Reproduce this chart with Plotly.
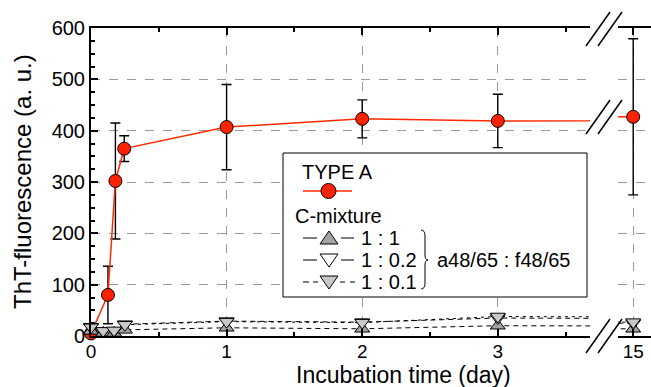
import plotly.graph_objects as go

# ---- data ----
days_a = [0, 0.125, 0.18, 0.245, 1, 2, 3, 15]
type_a = [5, 80, 302, 365, 407, 423, 419, 427]
type_a_err = [4, 56, 113, 25, 83, 37, 52, 152]

days_mix = [0, 0.09, 0.17, 0.25, 1, 2, 3, 15]
mix_1_1 = [10, 6, 6, 12, 16, 14, 20, 14]
mix_1_02 = [18, 10, 10, 23, 29, 27, 35, 25]
mix_1_01 = [17, 10, 11, 22, 28, 26, 38, 27]

mix_names = ["1 : 1", "1 : 0.2", "1 : 0.1"]
x_ticks_left = [0, 1, 2, 3]
x_ticks_right = [15]
y_ticks = [0, 100, 200, 300, 400, 500, 600]

FONT = "Liberation Sans, Arial, Helvetica, sans-serif"
W, H = 651, 387
L, R, T, B = 91, 0, 28, 51
PW, PH = W - L - R, H - T - B

RED = "#ff2200"
GRAY_UP = "#a3a3a3"
GRAY_DN = "#c8c8c8"


def px(x):
    return (x - L) / PW


def py(y):
    return (H - B - y) / PH


fig = go.Figure()

red_line = dict(color="#ff2a00", width=1.5)
red_marker = dict(size=13, color=RED, line=dict(color="black", width=1))
err = dict(type="data", array=type_a_err, visible=True, color="black", thickness=1.4, width=5)

for xa in ("x", "x2"):
    fig.add_trace(go.Scatter(
        x=days_a, y=type_a, xaxis=xa, yaxis="y", mode="lines+markers",
        line=red_line, marker=red_marker, error_y=err, cliponaxis=False,
        name="TYPE A", showlegend=False,
    ))

mix_specs = [
    (mix_names[0], mix_1_1, "triangle-up", GRAY_UP, "5px,4px"),
    (mix_names[1], mix_1_02, "triangle-down", "white", "5px,4px"),
    (mix_names[2], mix_1_01, "triangle-down", GRAY_DN, "3px,4px"),
]
for nm, vals, sym, fill, dash in mix_specs:
    for xa in ("x", "x2"):
        fig.add_trace(go.Scatter(
            x=days_mix, y=vals, xaxis=xa, yaxis="y", mode="lines+markers",
            line=dict(color="black", width=1, dash=dash),
            marker=dict(symbol=sym, size=13, color=fill, line=dict(color="black", width=1)),
            cliponaxis=False, name=nm, showlegend=False,
        ))

axis_common = dict(
    showline=True, linecolor="black", linewidth=2, mirror="ticks",
    ticks="inside", ticklen=7, tickwidth=1.5, tickcolor="black",
    showgrid=True, gridcolor="#9a9a9a", griddash="dash", gridwidth=1,
    zeroline=False, tickfont=dict(size=20, family=FONT, color="black"),
)
x_common = dict(axis_common, tickfont=dict(size=19, family=FONT, color="black"),
                ticklabelstandoff=-3)

fig.update_layout(
    width=W, height=H, margin=dict(l=L, r=R, t=T, b=B, autoexpand=False),
    plot_bgcolor="white", paper_bgcolor="white",
    font=dict(family=FONT, size=20, color="black"),
    showlegend=False,
    xaxis=dict(domain=[0, px(590)], range=[0, 3.68], tickvals=x_ticks_left,
               ticktext=[str(v) for v in x_ticks_left], anchor="y",
               minor=dict(tickvals=[0.5, 1.5, 2.5, 3.5], ticks="inside", ticklen=4,
                          tickcolor="black", showgrid=False),
               **x_common),
    xaxis2=dict(domain=[px(618), 1], range=[14.889, 15.13], tickvals=x_ticks_right,
                ticktext=[str(v) for v in x_ticks_right], anchor="y", **x_common),
    yaxis=dict(range=[0, 600], tickvals=y_ticks, anchor="x",
               minor=dict(dtick=25, ticks="inside", ticklen=4, tickcolor="black", showgrid=False),
               **{k: v for k, v in axis_common.items() if k != "mirror"}),
)

shapes = []
# legend box
shapes.append(dict(type="rect", xref="paper", yref="paper", x0=px(283), x1=px(587),
                   y0=py(297), y1=py(153), fillcolor="white",
                   line=dict(color="black", width=1), layer="above"))


def seg(x0, y0, x1, y1, color="black", width=1.5, dash=None):
    ln = dict(color=color, width=width)
    if dash:
        ln["dash"] = dash
    return dict(type="line", xref="paper", yref="paper", x0=px(x0), y0=py(y0),
                x1=px(x1), y1=py(y1), line=ln)


# legend samples
shapes.append(seg(303, 191, 352, 191, color="#ff2a00", width=1.5))
shapes.append(dict(type="circle", xref="paper", yref="paper", x0=px(321), x1=px(336),
                   y0=py(198.5), y1=py(183.5), fillcolor=RED, line=dict(color="black", width=1)))
rows = [(238, "up", GRAY_UP, False), (260, "down", "white", False), (282, "down", GRAY_DN, True)]
cx = 329
for cy, d, fill, dashed in rows:
    if dashed:
        shapes += [seg(303, cy, 309, cy, width=1), seg(313, cy, 318, cy, width=1),
                   seg(340, cy, 345, cy, width=1), seg(350, cy, 355, cy, width=1)]
    else:
        shapes += [seg(303, cy, 317, cy, width=1), seg(341, cy, 354, cy, width=1)]
    if d == "up":
        pts = [(cx - 9, cy + 6), (cx + 9, cy + 6), (cx, cy - 7)]
    else:
        pts = [(cx - 9, cy - 6), (cx + 9, cy - 6), (cx, cy + 7)]
    path = "M " + " L ".join(f"{px(a)},{py(b)}" for a, b in pts) + " Z"
    shapes.append(dict(type="path", xref="paper", yref="paper", path=path,
                       fillcolor=fill, line=dict(color="black", width=1)))

# axis-break marks
for cy in (29, 117, 336):
    for dx in (0, 12):
        shapes.append(seg(586 + dx, cy + 17, 610 + dx, cy - 17, width=1.5))

# brace
bx, tip, yt, ym, yb = 421, 428, 230, 260, 289
path = (f"M {px(bx)},{py(yt)} Q {px(bx+4)},{py(yt)} {px(bx+4)},{py(yt+6)} "
        f"L {px(bx+4)},{py(ym-5)} Q {px(bx+4)},{py(ym)} {px(tip)},{py(ym)} "
        f"Q {px(bx+4)},{py(ym)} {px(bx+4)},{py(ym+5)} "
        f"L {px(bx+4)},{py(yb-6)} Q {px(bx+4)},{py(yb)} {px(bx)},{py(yb)}")
shapes.append(dict(type="path", xref="paper", yref="paper", path=path,
                   line=dict(color="black", width=1)))
fig.update_layout(shapes=shapes)


def label(text, x, y, size=20, xanchor="left", angle=0):
    fig.add_annotation(text=text, xref="paper", yref="paper", x=px(x), y=py(y),
                       xanchor=xanchor, yanchor="middle", showarrow=False, textangle=angle,
                       font=dict(size=size, family=FONT, color="black"))


label("TYPE A", 300, 172)
label("C-mixture", 293, 216)
for (cy, _, _, _), nm in zip(rows, mix_names):
    label(nm, 359, cy)
label("a48/65 : f48/65", 435, 260)
label("Incubation time (day)", 403, 375, size=23, xanchor="center")
label("ThT-fluorescence (a. u.)", 22, 182, size=24, xanchor="center", angle=-90)

fig.write_html("out.html", post_script="document.body.style.margin='0';",
               config={"displayModeBar": False})
